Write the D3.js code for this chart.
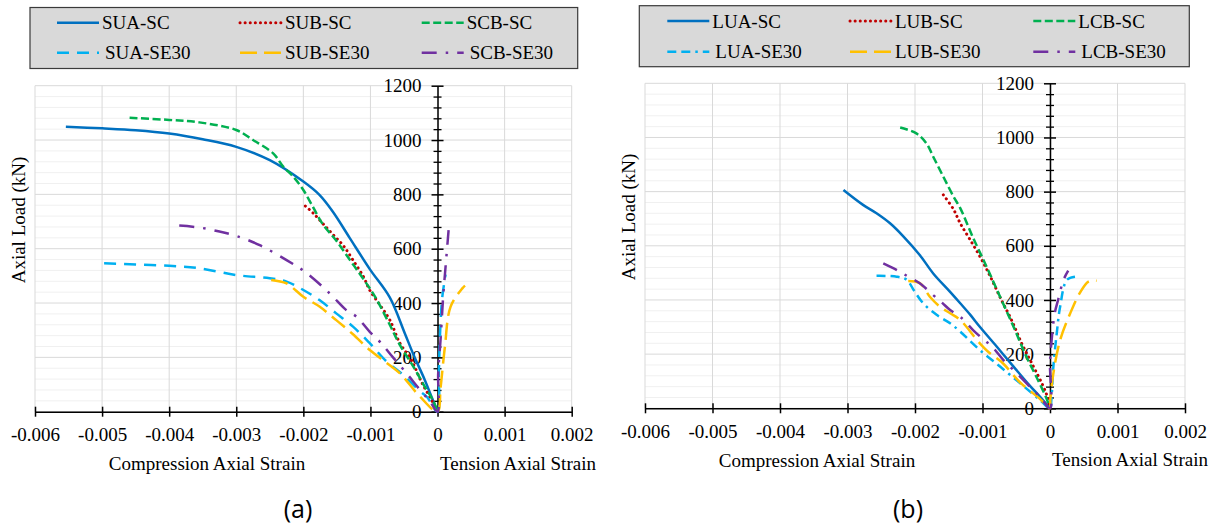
<!DOCTYPE html>
<html>
<head>
<meta charset="utf-8">
<script src="https://cdn.jsdelivr.net/npm/d3@7"></script>
<style>
  body { margin: 0; background: #fff; }
</style>
</head>
<body>
<svg id="fig" width="1219" height="527"></svg>
<script>
const SERIF = '"Liberation Serif", "Times New Roman", serif';

// Axis ticks
const xTicks = [-0.006, -0.005, -0.004, -0.003, -0.002, -0.001, 0, 0.001, 0.002];
const yTicks = [0, 200, 400, 600, 800, 1000, 1200];
const yMinorTicks = d3.range(0, 1201, 40);

// Legend labels (row 1 = SC, row 2 = SE30)
const labelsA = ['SUA-SC', 'SUB-SC', 'SCB-SC', 'SUA-SE30', 'SUB-SE30', 'SCB-SE30'];
const labelsB = ['LUA-SC', 'LUB-SC', 'LCB-SC', 'LUA-SE30', 'LUB-SE30', 'LCB-SE30'];

// (a) series: [strain, load kN]
const suaSC = [[-0.00554, 1049], [-0.0050, 1043], [-0.0045, 1036], [-0.0040, 1024], [-0.0035, 1003],
  [-0.0030, 975], [-0.0025, 926], [-0.0020, 847], [-0.00176, 798], [-0.00156, 736], [-0.00131, 640],
  [-0.00101, 525], [-0.00071, 420], [-0.00049, 290], [-0.00035, 205], [-0.00019, 117], [-0.00007, 43], [0, 0]];
const subSC = [[-0.00197, 757], [-0.00185, 730], [-0.00170, 690], [-0.00155, 650], [-0.00140, 610],
  [-0.00126, 558], [-0.00110, 495], [-0.00101, 447], [-0.00085, 390], [-0.00071, 337], [-0.00056, 252],
  [-0.00039, 190], [-0.00024, 110], [-0.00009, 43], [0, 0]];
const scbSC = [[-0.00459, 1082], [-0.0040, 1074], [-0.00355, 1065], [-0.0030, 1037], [-0.00275, 1000],
  [-0.00245, 951], [-0.0023, 902], [-0.00215, 865], [-0.0020, 816], [-0.00186, 755], [-0.00171, 690],
  [-0.00151, 630], [-0.00131, 560], [-0.00111, 490], [-0.00093, 423], [-0.00071, 319], [-0.00056, 245],
  [-0.00036, 166], [-0.00019, 92], [-0.00007, 43], [0, 0]];
const suaSE30 = [[-0.00497, 546], [-0.0045, 542], [-0.0040, 537], [-0.00355, 528], [-0.0030, 503],
  [-0.0025, 491], [-0.00225, 479], [-0.0020, 448], [-0.00176, 411], [-0.00151, 362], [-0.00126, 313],
  [-0.00101, 252], [-0.00076, 185], [-0.00051, 135], [-0.00026, 75], [-0.00016, 55], [0, 0],
  [0.00002, 150], [0.00004, 300], [0.00007, 420], [0.00012, 505]];
const subSE30 = [[-0.00248, 485], [-0.00225, 472], [-0.0020, 423], [-0.00176, 387], [-0.00151, 337],
  [-0.00126, 285], [-0.00101, 227], [-0.00076, 180], [-0.00056, 141], [-0.00026, 55], [0, 0],
  [0.000045, 87], [0.00011, 239], [0.000194, 386], [0.00037, 454], [0.00041, 464]];
const scbSE30 = [[-0.00385, 685], [-0.00355, 678], [-0.00325, 663], [-0.0030, 647], [-0.00265, 613],
  [-0.00225, 558], [-0.00196, 512], [-0.00161, 436], [-0.00136, 374], [-0.00121, 350], [-0.00101, 294],
  [-0.00085, 255], [-0.00067, 202], [-0.00046, 141], [-0.00026, 80], [-0.00011, 37], [0, 0],
  [0.00001, 141], [0.000045, 264], [0.000084, 423], [0.000124, 546], [0.000165, 668]];

// (b) series
const luaSC = [[-0.00306, 806], [-0.00277, 751], [-0.00257, 720], [-0.00237, 683], [-0.00217, 634],
  [-0.00193, 566], [-0.00173, 498], [-0.00148, 430], [-0.00133, 388], [-0.00118, 345], [-0.00104, 301],
  [-0.00079, 228], [-0.00054, 154], [-0.0003, 84], [-0.00015, 43], [0, 0]];
const lubSC = [[-0.00158, 788], [-0.00143, 735], [-0.00133, 683], [-0.00118, 621], [-0.00101, 548],
  [-0.00086, 474], [-0.00072, 400], [-0.00057, 326], [-0.00042, 240], [-0.00027, 166], [-0.00012, 92],
  [-0.00004, 43], [0, 0]];
const lcbSC = [[-0.00222, 1037], [-0.00198, 1015], [-0.00183, 978], [-0.00173, 929], [-0.00158, 855],
  [-0.00143, 782], [-0.00133, 739], [-0.00114, 630], [-0.00094, 523], [-0.00074, 412], [-0.00054, 301],
  [-0.00035, 191], [-0.00017, 100], [-0.00005, 35], [0, 0]];
const luaSE30 = [[-0.00257, 489], [-0.00227, 486], [-0.00212, 474], [-0.00202, 437], [-0.00188, 388],
  [-0.00168, 345], [-0.00148, 314], [-0.00133, 283], [-0.00104, 215], [-0.00074, 154], [-0.00044, 92],
  [-0.00015, 31], [0, 0], [0.00002, 31], [0.00005, 154], [0.0001, 277], [0.00015, 375], [0.00025, 474],
  [0.00037, 486]];
const lubSE30 = [[-0.0021, 470], [-0.00193, 462], [-0.00178, 412], [-0.00163, 375], [-0.00148, 351],
  [-0.00133, 326], [-0.00104, 240], [-0.00089, 203], [-0.00072, 172], [-0.00044, 95], [-0.00015, 35],
  [0, 0], [0.000004, 31], [0.00005, 129], [0.00015, 252], [0.0003, 351], [0.00044, 425], [0.00057, 468],
  [0.00069, 471]];
const lcbSE30 = [[-0.00247, 535], [-0.00225, 508], [-0.0021, 486], [-0.00193, 462], [-0.00173, 418],
  [-0.0016, 390], [-0.00148, 363], [-0.00133, 338], [-0.00114, 289], [-0.00099, 255], [-0.00086, 228],
  [-0.00069, 178], [-0.00049, 129], [-0.0003, 80], [-0.00015, 43], [0, 0], [0, 166], [0.00002, 240],
  [0.00007, 351], [0.00012, 400], [0.0002, 474], [0.00027, 508]];

// Line styles, same order as the labels
const lineStyles = [
  { color: '#0070c0', dash: null, cap: 'butt' },
  { color: '#c00000', dash: '0.1 5', cap: 'round' },
  { color: '#00b050', dash: '8 3.5', cap: 'butt' },
  { color: '#00b0f0', dash: '12 8', cap: 'butt' },
  { color: '#ffc000', dash: '17 7', cap: 'butt' },
  { color: '#7030a0', dash: '15 9 2.5 9', cap: 'butt' },
];

const svg = d3.select('#fig');

class AxialStrainChart {
  constructor(_config, _labels, _data) {
    this.config = _config;
    this.labels = _labels;
    this.data = _data;
    this.initVis();
  }

  initVis() {
    const vis = this;
    const c = vis.config;

    vis.xScale = d3.scaleLinear().domain([-0.006, 0.002]).range([c.left, c.right]);
    vis.yScale = d3.scaleLinear().domain([0, 1200]).range([c.bottom, c.top]);

    svg.append('clipPath').attr('id', c.id)
      .append('rect')
      .attr('x', c.clipLeft).attr('y', 0)
      .attr('width', c.clipRight - c.clipLeft).attr('height', 527);

    vis.chart = svg.append('g').attr('clip-path', `url(#${c.id})`);

    // grid lines
    const grid = vis.chart.append('g');
    grid.selectAll('.minor')
      .data(yMinorTicks.filter((d) => d % 200 !== 0))
      .join('line')
      .attr('x1', c.left).attr('x2', c.right)
      .attr('y1', (d) => vis.yScale(d)).attr('y2', (d) => vis.yScale(d))
      .attr('stroke', '#f0f0f0').attr('stroke-width', 1);
    grid.selectAll('.major-h')
      .data(yTicks)
      .join('line')
      .attr('x1', c.left).attr('x2', c.right)
      .attr('y1', (d) => vis.yScale(d)).attr('y2', (d) => vis.yScale(d))
      .attr('stroke', '#d9d9d9').attr('stroke-width', 1);
    grid.selectAll('.major-v')
      .data(xTicks)
      .join('line')
      .attr('x1', (d) => vis.xScale(d)).attr('x2', (d) => vis.xScale(d))
      .attr('y1', vis.yScale(0)).attr('y2', vis.yScale(1200))
      .attr('stroke', '#d9d9d9').attr('stroke-width', 1);

    // axes
    const fmt = (d) => (d === 0 ? '0' : String(+d.toFixed(3)));
    vis.xAxis = d3.axisBottom(vis.xScale)
      .tickValues(xTicks).tickSize(5).tickSizeOuter(0).tickPadding(11).tickFormat(fmt);
    vis.yAxis = d3.axisLeft(vis.yScale)
      .tickValues(yTicks).tickSize(6).tickSizeOuter(0).tickPadding(10).tickFormat((d) => String(d));
    vis.yAxisMinor = d3.axisLeft(vis.yScale)
      .tickValues(yMinorTicks.filter((d) => d % 200 !== 0)).tickSize(4).tickFormat('');

    vis.xAxisG = vis.chart.append('g')
      .attr('transform', `translate(0,${vis.yScale(0)})`);
    vis.yAxisG = vis.chart.append('g')
      .attr('transform', `translate(${vis.xScale(0)},0)`);
    vis.yAxisMinorG = vis.chart.append('g')
      .attr('transform', `translate(${vis.xScale(0)},0)`);

    vis.marks = vis.chart.append('g');

    vis.renderVis();
  }

  renderVis() {
    const vis = this;
    const c = vis.config;

    const line = d3.line()
      .curve(d3.curveCatmullRom.alpha(0.5))
      .x((d) => vis.xScale(d[0]))
      .y((d) => vis.yScale(d[1]));

    vis.marks.selectAll('.series')
      .data(vis.data)
      .join('path')
      .attr('class', 'series')
      .attr('fill', 'none')
      .attr('d', (d) => line(d))
      .attr('stroke', (d, i) => lineStyles[i].color)
      .attr('stroke-width', (d, i) => (i === 1 ? 3 : 2.5))
      .attr('stroke-linecap', (d, i) => lineStyles[i].cap)
      .attr('stroke-dasharray', (d, i) => c.dashes[i]);

    vis.drawAxis();
    vis.drawLabels();
    vis.drawLegend();
  }

  drawAxis() {
    const vis = this;
    vis.xAxisG.call(vis.xAxis);
    vis.xAxisG.select('.domain').attr('stroke-width', 1.5);
    vis.xAxisG.selectAll('.tick line').attr('y1', -5).attr('y2', 5).attr('stroke-width', 1.5);

    vis.yAxisG.call(vis.yAxis);
    vis.yAxisG.select('.domain').attr('stroke-width', 1.5);
    vis.yAxisG.selectAll('.tick line').attr('x1', -6).attr('x2', 6).attr('stroke-width', 1.5);

    [vis.xAxisG, vis.yAxisG].forEach((g) => {
      g.selectAll('.tick text')
        .style('font-family', SERIF)
        .style('font-size', '19px')
        .attr('fill', '#000');
    });

    vis.yAxisMinorG.call(vis.yAxisMinor);
    vis.yAxisMinorG.select('.domain').remove();
    vis.yAxisMinorG.selectAll('.tick line').attr('x1', -4).attr('x2', 4).attr('stroke-width', 1.3);
  }

  drawLabels() {
    const vis = this;
    const c = vis.config;
    const txt = (g) => g.append('text')
      .style('font-family', SERIF)
      .style('font-size', '19px')
      .attr('fill', '#000')
      .attr('dy', '0.35em');

    txt(vis.chart)
      .attr('transform', `translate(${c.yTitle[0]},${c.yTitle[1]}) rotate(-90)`)
      .attr('text-anchor', 'middle')
      .text('Axial Load (kN)');
    txt(vis.chart)
      .attr('x', c.compTitle[0]).attr('y', c.compTitle[1])
      .attr('text-anchor', 'middle')
      .text('Compression Axial Strain');
    txt(vis.chart)
      .attr('x', c.tensTitle[0]).attr('y', c.tensTitle[1])
      .text('Tension Axial Strain');

    svg.append('text')
      .attr('x', c.caption[0]).attr('y', c.caption[1])
      .attr('text-anchor', 'middle').attr('dy', '0.35em')
      .style('font-family', '"Open Sans", "Noto Sans", sans-serif')
      .style('font-size', '25px')
      .attr('fill', '#000')
      .text(c.captionText);
  }

  drawLegend() {
    const vis = this;
    const c = vis.config;
    const lg = svg.append('g');
    lg.append('rect')
      .attr('x', c.legend.x).attr('y', c.legend.y)
      .attr('width', c.legend.w).attr('height', c.legend.h)
      .attr('fill', '#d9d9d9').attr('stroke', '#3a3a3a').attr('stroke-width', 1.2);

    const items = lg.selectAll('.item')
      .data(vis.labels)
      .join('g')
      .attr('class', 'item')
      .attr('transform', (d, i) => `translate(${c.legend.cols[i % 3]},${c.legend.rows[Math.floor(i / 3)]})`);
    items.append('line')
      .attr('x1', 0).attr('x2', 42).attr('y1', 0).attr('y2', 0)
      .attr('stroke', (d, i) => lineStyles[i].color)
      .attr('stroke-width', (d, i) => (i === 1 ? 3 : 2.5))
      .attr('stroke-linecap', (d, i) => lineStyles[i].cap)
      .attr('stroke-dasharray', (d, i) => c.dashes[i]);
    items.append('text')
      .attr('x', (d, i) => (i === 3 || i === 5 ? 48 : 45))
      .attr('dy', '0.35em')
      .style('font-family', SERIF)
      .style('font-size', '19px')
      .attr('fill', '#000')
      .text((d) => d);
  }
}

// eslint-disable-next-line no-unused-vars
const chartA = new AxialStrainChart({
  id: 'clipA', clipLeft: 0, clipRight: 598,
  left: 35, right: 571.7, top: 85.7, bottom: 411.7,
  yTitle: [18, 220], compTitle: [207, 463], tensTitle: [440, 463],
  caption: [298, 509], captionText: '(a)',
  legend: { x: 30, y: 7.5, w: 547.7, h: 61, cols: [57, 240, 421.7], rows: [22.7, 52.7] },
  dashes: lineStyles.map((s) => s.dash),
}, labelsA, [suaSC, subSC, scbSC, suaSE30, subSE30, scbSE30]);

// eslint-disable-next-line no-unused-vars
const chartB = new AxialStrainChart({
  id: 'clipB', clipLeft: 605, clipRight: 1212,
  left: 645, right: 1185, top: 83.3, bottom: 408.3,
  yTitle: [628, 217], compTitle: [817, 460], tensTitle: [1052, 459],
  caption: [908, 509], captionText: '(b)',
  legend: { x: 639.3, y: 5.7, w: 550, h: 61, cols: [667.3, 850, 1033.3], rows: [21, 51.7] },
  dashes: lineStyles.map((s, i) => (i === 3 ? '9 5 9 5 2.5 5' : s.dash)),
}, labelsB, [luaSC, lubSC, lcbSC, luaSE30, lubSE30, lcbSE30]);
</script>
</body>
</html>
